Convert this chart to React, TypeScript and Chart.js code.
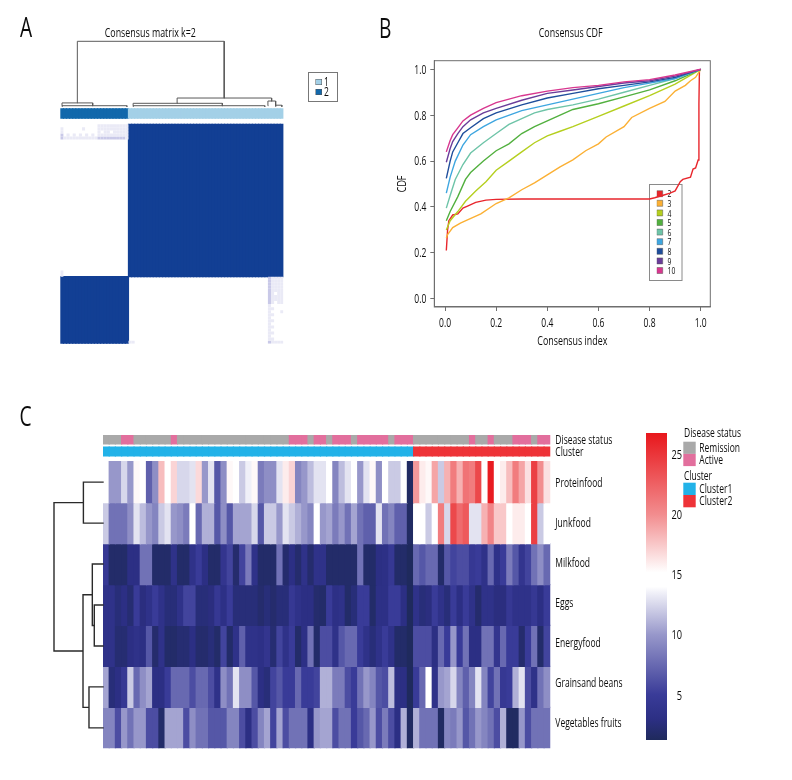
import React, { useEffect, useRef } from "react";
import { Chart, registerables } from "chart.js";

Chart.register(...registerables);

const FONT = '"Open Sans", "Noto Sans", sans-serif';
const TEXT_WIDTH = 0.71;
const TEXT_DROP = 0.9;
const W = 792;
const H = 780;
const INK = "#0c0c0c";

/* The reference sets its text in a condensed face: every label of every chart is narrowed here. */
Chart.register({
  id: "condensedText",
  beforeInit(chart: any) {
    const ctx = chart.ctx;
    const fill = ctx.fillText.bind(ctx);
    ctx.fillText = (t: string, x: number, y: number, m?: number) => {
      ctx.save();
      ctx.translate(x, y + TEXT_DROP);
      ctx.scale(TEXT_WIDTH, 1);
      if (m == null) fill(t, 0, 0);
      else fill(t, 0, 0, m / TEXT_WIDTH);
      ctx.restore();
    };
  },
} as any);

/* ---------- Panel A: consensus matrix ---------- */
const matrixClusters = [2,2,2,2,2,2,2,2,2,2,2,2,2,2,2,2,2,2,2,2,2,2,1,1,1,1,1,1,1,1,1,1,1,1,1,1,1,1,1,1,1,1,1,1,1,1,1,1,1,1,1,1,1,1,1,1,1,1,1,1,1,1,1,1,1,1,1,1,1,1,1,1];
const matrixLegendLabels = ["1", "2"];
const matrixClusterColors = ["#a3d0e7", "#1268ab"];
// faint consensus, rows 0..4 over the first 22 columns
const faintTopLeft = [
  [0,0,0,0,0,0,0,0,0,0,0,0,1,1,1,1,1,1,1,1,1,1],
  [1,0,0,0,0,0,0,1,0,0,0,0,1,1,1,1,1,1,1,1,1,1],
  [1,0,0,0,0,0,0,0,0,0,0,0,1,0,1,1,0,1,1,1,1,1],
  [2,0,1,0,1,0,1,0,1,0,1,0,1,1,1,1,1,1,1,1,1,1],
  [2,1,1,1,1,1,1,1,1,1,1,1,2,2,2,2,2,2,2,2,2,1],
];
// faint consensus, rows 50..71 over the last 5 columns
const faintBottomRight = [
  [2,1,1,1,1],[2,1,1,1,1],[2,1,1,1,1],[2,1,1,1,1],[2,1,1,1,1],[2,1,0,1,1],[2,1,1,1,1],[2,1,1,1,1],[2,1,0,1,1],
  [1,0,0,0,0],[1,1,0,0,0],[1,0,0,0,1],[1,1,0,0,0],[1,0,0,0,0],[1,1,0,0,0],[1,0,0,0,0],[1,1,0,0,0],[1,0,0,0,0],[1,1,0,0,0],[1,0,0,0,0],[1,1,0,0,0],[2,1,1,1,1],
];
const faintColors = ["#ffffff", "#eaeaf6", "#c9c9e8"];
// [left leaf, right leaf, merge height, left child height, right child height]
const matrixMerges = [
  [5.5, 52.9, 1, 0.055, 0.13],
  [0.55, 10.45, 0.055, 0.012, 0.012],
  [0.55, 21.5, 0.012, 0, 0],
  [37.7, 68.2, 0.13, 0.049, 0.084],
  [23.5, 52.3, 0.049, 0.012, 0.012],
  [23.5, 66, 0.012, 0, 0],
  [67, 69.5, 0.084, 0.012, 0.012],
  [69.5, 71.5, 0.02, 0, 0],
];

/* ---------- Panel B: consensus CDF ---------- */
const cdfLabels = ["2", "3", "4", "5", "6", "7", "8", "9", "10"];
const cdfColors = ["#e8262c", "#fbb034", "#b5cf1f", "#52b03f", "#6ec4a8", "#3ea6e0", "#1f4e9c", "#6a3d9a", "#d8378f"];
const cdf2x = [0.005,0.01,0.015,0.03,0.05,0.07,0.09,0.12,0.16,0.2,0.3,0.8,0.82,0.85,0.88,0.9,0.92,0.93,0.96,0.97,0.98,0.99,0.993,0.995];
const cdf2y = [0.21,0.30,0.34,0.365,0.37,0.395,0.405,0.42,0.43,0.433,0.435,0.435,0.44,0.45,0.46,0.47,0.51,0.52,0.53,0.565,0.57,0.605,0.85,1.0];
const cdf3x = [0.005,0.01,0.03,0.06,0.09,0.14,0.2,0.25,0.3,0.35,0.4,0.45,0.5,0.55,0.6,0.63,0.7,0.73,0.8,0.86,0.9,0.94,0.96,0.98,1];
const cdf3y = [0.265,0.28,0.31,0.33,0.345,0.37,0.415,0.44,0.475,0.505,0.54,0.575,0.605,0.645,0.675,0.705,0.75,0.79,0.83,0.86,0.905,0.93,0.95,0.965,1];
const cdf4x = [0.005,0.02,0.05,0.08,0.12,0.16,0.2,0.25,0.3,0.35,0.4,0.45,0.5,0.6,0.7,0.8,0.9,1];
const cdf4y = [0.30,0.34,0.38,0.425,0.47,0.51,0.56,0.60,0.64,0.68,0.71,0.73,0.75,0.795,0.84,0.885,0.935,1];
const cdf5x = [0.005,0.02,0.05,0.08,0.1,0.15,0.2,0.25,0.3,0.35,0.4,0.45,0.5,0.6,0.7,0.8,0.9,1];
const cdf5y = [0.34,0.38,0.445,0.52,0.55,0.60,0.645,0.675,0.72,0.75,0.775,0.80,0.825,0.85,0.88,0.91,0.95,1];
const cdf6x = [0.005,0.02,0.04,0.07,0.1,0.15,0.2,0.25,0.3,0.35,0.4,0.5,0.6,0.7,0.8,0.9,1];
const cdf6y = [0.395,0.45,0.52,0.585,0.635,0.68,0.72,0.76,0.785,0.81,0.825,0.845,0.87,0.90,0.93,0.96,1];
const cdf7x = [0.005,0.02,0.04,0.07,0.1,0.15,0.2,0.3,0.4,0.5,0.6,0.7,0.8,0.9,1];
const cdf7y = [0.46,0.53,0.60,0.67,0.715,0.75,0.78,0.82,0.845,0.87,0.895,0.92,0.94,0.96,1];
const cdf8x = [0.005,0.02,0.03,0.05,0.07,0.1,0.15,0.2,0.3,0.4,0.5,0.6,0.7,0.8,0.9,1];
const cdf8y = [0.525,0.60,0.64,0.68,0.72,0.745,0.785,0.81,0.845,0.875,0.895,0.915,0.93,0.945,0.965,1];
const cdf9x = [0.005,0.02,0.03,0.05,0.07,0.1,0.15,0.2,0.3,0.4,0.5,0.6,0.7,0.8,0.9,1];
const cdf9y = [0.595,0.655,0.685,0.72,0.75,0.78,0.81,0.83,0.865,0.895,0.91,0.925,0.94,0.95,0.97,1];
const cdf10x = [0.005,0.02,0.03,0.05,0.07,0.1,0.15,0.2,0.25,0.3,0.4,0.5,0.6,0.7,0.8,0.9,1];
const cdf10y = [0.64,0.69,0.715,0.745,0.775,0.80,0.83,0.855,0.87,0.885,0.905,0.92,0.93,0.945,0.955,0.975,1];
const cdfX = [cdf2x, cdf3x, cdf4x, cdf5x, cdf6x, cdf7x, cdf8x, cdf9x, cdf10x];
const cdfY = [cdf2y, cdf3y, cdf4y, cdf5y, cdf6y, cdf7y, cdf8y, cdf9y, cdf10y];
const cdfTicks = [0, 0.2, 0.4, 0.6, 0.8, 1];

/* ---------- Panel C: heatmap ---------- */
const rowLabels = ["Proteinfood", "Junkfood", "Milkfood", "Eggs", "Energyfood", "Grainsand beans", "Vegetables fruits"];
const rowLabelTicks = [0.513, 1.49, 2.466, 3.45, 4.42, 5.4, 6.38];
const proteinfood = [14,10,10,12.5,10,15.5,14.5,7,9.5,18,14.5,17,12.5,12.5,13,16.8,10,13,6.5,9.5,15.5,14.5,12,13.5,15.5,8.5,9.5,9.5,13,16,17,9,10,11.5,13,13,14.5,9,11.5,13,14.5,10,13,15.5,9.5,14.5,12,12,14.5,1.5,19.5,16,15.5,19,12,18.5,21,18.5,21.5,21,24,14.5,26.5,14.5,16,18,21,19,16.5,24.5,20,16.5];
const junkfood = [12,8,8,8,9.5,13,11.5,10,9,12,13,10,9.5,8.5,14.5,7.5,11,11,6.5,9.5,6.5,10.5,10.5,10.5,12.5,6.5,12,12,10,13,12,11,10,9,14.5,10,10.5,8.5,10,8,10.5,8,7,7,13,8,9,7,7,1.5,14.5,14.5,12,14.5,21,12.5,24,22,23,13,13,18.5,20.5,17.5,17.5,14.5,16,16,14.5,24.5,12,14.5];
const milkfood = [4.5,1.8,1.8,1.8,3,3,8,8,1.8,1.8,1.8,3.5,1.8,1.8,3.5,5,3,1.8,1.8,4,5.5,2,5.5,8.5,3.5,1.8,1.8,1.8,8,2,3,2,3.5,2,3.5,3.5,1.8,1.8,1.8,1.8,1.8,8,1.8,1.8,3,3.2,4.5,1.8,1.8,1.3,7.5,6.5,7.5,7.5,1.8,6.5,5.5,6,6,4.5,5,3.5,7.5,3.5,5,8.5,6.5,4,5.5,8,9.5,7.5];
const eggs = [3.5,3.5,2.5,3,2.2,5,2.8,3.5,5,3.5,2.5,2.5,3.5,5.5,5.5,2.5,2.5,2.8,4.5,3.2,5,2.5,2.5,2.5,2.5,2,2.5,2,2.5,2.5,4.5,3.5,3,3,2,1.8,5,3.2,3.5,1.8,2.5,5,5,1.8,3.2,3.2,5,5,3,1.3,3.5,2.5,2.8,5,3.5,2.5,5,3,5,3.5,2,3.5,3.5,2.8,2.8,4.5,3.5,3.5,3.5,4.5,3,5];
const energyfood = [3.5,3.5,2.2,2.2,3,3.5,3,6.5,2,3.5,1.8,1.8,2.2,2.2,3,2,2,2.5,1.8,5.5,1.8,3.5,7,3.5,3.5,3.2,4,2.2,5.5,3.5,5,1.8,3.2,8,1.8,6,6,3.5,6.5,7.5,7.5,5,3.5,2.5,3.5,5,3.5,1.8,1.8,1.3,6,6,6,3,7.5,5,10,5,8,3,3,8,8,4,7.5,5,5,2,5,8,1.8,5.5];
const grainsBeans = [10.5,2.5,3,4.5,12,7.5,9.5,10.5,3,3,5,7.5,7.5,7.5,6,7.5,7.5,6,3.5,9.5,8,13,9.5,9.5,6.5,3,2.5,5.5,6.5,5,5,7.5,5,5,5.5,11,11,8.5,8.5,6,5,8,10,9,6.5,6,11.5,3,3,1.3,5,7.5,15,3.5,10,10.5,12.5,9,7,9,13,9,5.5,8,4.5,5,11,13,6,3.5,8,9.5];
const vegetablesFruits = [9,9,6,10,8,10,10,6,6,1.8,10.5,10.5,10.5,6,9.5,8,8,6.5,6.5,6.5,9,9,6,3,6,9,10.5,5.5,10.5,6,8,8,8,3,10,10.5,10.5,6,8,8,5,6.5,7.5,10,6,8.5,6,3,11,1.5,11,8,8,8,1.5,9,8.5,10,6.5,8,10,9,8,6,11,1.5,1.5,10,6,8,8,8];
const heatRows = [proteinfood, junkfood, milkfood, eggs, energyfood, grainsBeans, vegetablesFruits];
const diseaseStatus = [0,0,0,1,1,0,0,0,0,0,0,1,0,0,0,0,0,0,0,0,0,0,0,0,0,0,0,0,0,0,1,1,1,0,1,1,0,1,1,1,0,1,1,1,1,1,0,1,1,1,0,0,0,0,0,0,0,0,0,1,0,0,1,0,0,0,1,1,1,0,1,1];
const clusterRow = [0,0,0,0,0,0,0,0,0,0,0,0,0,0,0,0,0,0,0,0,0,0,0,0,0,0,0,0,0,0,0,0,0,0,0,0,0,0,0,0,0,0,0,0,0,0,0,0,0,0,1,1,1,1,1,1,1,1,1,1,1,1,1,1,1,1,1,1,1,1,1,1];
const diseaseLabels = ["Remission", "Active"];
const diseaseColors = ["#a9a9a9", "#e26f9d"];
const clusterLabels = ["Cluster1", "Cluster2"];
const clusterColors = ["#22b2e8", "#ee3338"];
// [upper row, lower row, merge height, upper child height, lower child height]
const rowMerges = [
  [0.5, 1.5, 0.4, 0, 0],
  [3.5, 4.5, 0.178, 0, 0],
  [2.5, 4, 0.218, 0, 0.178],
  [5.5, 6.5, 0.286, 0, 0],
  [3.25, 6, 0.408, 0.218, 0.286],
  [1, 4.625, 1, 0.4, 0.408],
];
const colorStops: [number, string][] = [
  [1.25, "#1f2a5c"], [3, "#2c2f84"], [5, "#393b98"], [10, "#9797ca"], [13.5, "#f0f0f8"],
  [14, "#ffffff"], [15.2, "#ffffff"], [20, "#f28d8f"], [26.8, "#e8171c"],
];
const colorbarRange = [1.25, 26.8];
const colorbarTicks = [5, 10, 15, 20, 25];

/* ---------- helpers ---------- */
const hexRgb = (h: string) => [1, 3, 5].map((i) => parseInt(h.slice(i, i + 2), 16));
function heatColor(v: number) {
  for (let i = 1; i < colorStops.length; i++) {
    if (v <= colorStops[i][0]) {
      const [v0, c0] = colorStops[i - 1];
      const [v1, c1] = colorStops[i];
      const t = Math.max(0, (v - v0) / (v1 - v0));
      const a = hexRgb(c0), b = hexRgb(c1);
      return `rgb(${a.map((x, k) => Math.round(x + (b[k] - x) * t)).join(",")})`;
    }
  }
  return colorStops[colorStops.length - 1][1];
}
const area = (l: number, t: number, r: number, b: number) => ({ padding: { left: l, top: t, right: W - r, bottom: H - b } });
const font = (size: number) => ({ family: FONT, size, lineHeight: 1.2 });
const hidden = { display: false };
const base = { responsive: false, animation: false, events: [] as string[] };
const noPlugins = { legend: { display: false }, title: { display: false }, tooltip: { enabled: false } };

type Note = { text: string; x: number; y: number; size: number; align?: CanvasTextAlign };
function notesPlugin(notes: Note[], extra?: (ctx: CanvasRenderingContext2D) => void) {
  return {
    id: "notes",
    afterDraw(chart: any) {
      const ctx: CanvasRenderingContext2D = chart.ctx;
      ctx.save();
      ctx.fillStyle = INK;
      ctx.textBaseline = "middle";
      for (const n of notes) {
        ctx.font = `${n.size}px ${FONT}`;
        ctx.textAlign = n.align || "left";
        ctx.fillText(n.text, n.x, n.y);
      }
      if (extra) extra(ctx);
      ctx.restore();
    },
  };
}
function swatchRow(ctx: CanvasRenderingContext2D, color: string, x: number, y: number, w: number, h: number, label: string, lx: number, size: number) {
  ctx.fillStyle = color;
  ctx.fillRect(x, y, w, h);
  ctx.fillStyle = INK;
  ctx.font = `${size}px ${FONT}`;
  ctx.textAlign = "left";
  ctx.fillText(label, lx, y + h / 2);
}
function treePath(merges: number[][], horizontal: boolean) {
  const pts: { x: number; y: number }[] = [];
  for (const [a, b, top, ha, hb] of merges) {
    const seq = [[a, ha], [a, top], [b, top], [b, hb], [NaN, NaN]];
    for (const [p, h] of seq) pts.push(horizontal ? { x: h, y: p } : { x: p, y: h });
  }
  return pts;
}
const barDefaults = { barPercentage: 1, categoryPercentage: 1, grouped: false, borderWidth: 0, inflateAmount: 0.6 };

/* ---------- chart configs ---------- */
function matrixConfig() {
  const n = matrixClusters.length;
  const firstSize = matrixClusters.filter((c) => c === 2).length;
  const secondSize = n - firstSize;
  const cols = matrixClusters.map((_, i) => String(i));
  const datasets: any[] = [];
  faintTopLeft.forEach((row, r) => {
    datasets.push({
      data: cols.map((_, c) => (row[c] ? [r, r + 1] : null)),
      backgroundColor: cols.map((_, c) => faintColors[row[c] || 0]),
      inflateAmount: 0,
    });
  });
  faintBottomRight.forEach((row, r) => {
    const first = n - row.length;
    datasets.push({
      data: cols.map((_, c) => (c >= first && row[c - first] ? [secondSize + r, secondSize + r + 1] : null)),
      backgroundColor: cols.map((_, c) => faintColors[c >= first ? row[c - first] : 0]),
      inflateAmount: 0,
    });
  });
  datasets.push({
    data: cols.map((_, c) => (c === 22 || c === 23 ? [n - 1, n] : null)),
    backgroundColor: faintColors[1],
    inflateAmount: 0,
  });
  datasets.push({
    data: cols.map((_, c) => (c === 0 ? [secondSize - 2, secondSize] : null)),
    backgroundColor: faintColors[1],
    inflateAmount: 0,
  });
  datasets.push({
    data: matrixClusters.map(() => [-5.25, -2]),
    backgroundColor: matrixClusters.map((c) => matrixClusterColors[c - 1]),
  });
  datasets.push({
    data: matrixClusters.map((c) => (c === 1 ? [0, secondSize] : [secondSize, n])),
    backgroundColor: "#123f94",
  });
  return {
    type: "bar",
    data: { labels: cols, datasets },
    options: {
      ...base,
      layout: area(60.3, 108.3, 283.4, 343.7),
      datasets: { bar: barDefaults },
      plugins: noPlugins,
      scales: {
        x: hidden,
        y: { ...hidden, type: "linear", reverse: true, min: -5.25, max: n },
      },
    },
    plugins: [
      notesPlugin(
        [
          { text: "A", x: 20, y: 28.5, size: 27 },
          { text: "Consensus matrix k=2", x: 150.3, y: 32.5, size: 12.5, align: "center" },
        ],
        (ctx) => {
          ctx.strokeStyle = "#777";
          ctx.lineWidth = 1;
          ctx.strokeRect(308.5, 72.5, 29, 29);
          matrixLegendLabels.forEach((l, i) => {
            ctx.fillStyle = "#555";
            ctx.fillRect(315.5, 79 + i * 10, 6.5, 6);
            swatchRow(ctx, matrixClusterColors[i], 316, 79.5 + i * 10, 5.5, 5, l, 324, 12);
          });
        }
      ),
    ],
  };
}
function matrixTreeConfig() {
  return {
    type: "scatter",
    data: {
      datasets: [
        { data: treePath(matrixMerges, false), showLine: true, borderColor: "#5a5a5a", borderWidth: 1, pointRadius: 0, clip: false, borderCapStyle: "square" },
      ],
    },
    options: {
      ...base,
      layout: area(60.3, 41.3, 283.4, 106.5),
      plugins: noPlugins,
      scales: { x: { ...hidden, type: "linear", min: 0, max: 72 }, y: { ...hidden, type: "linear", min: 0, max: 1 } },
    },
  };
}
function cdfConfig() {
  const axisColor = "#6e6e6e";
  const fixedTicks = (scale: any) => {
    scale.ticks = cdfTicks.map((value) => ({ value }));
  };
  const axis = (title: string) => ({
    type: "linear",
    afterBuildTicks: fixedTicks,
    title: { display: true, text: title, font: font(12.5), color: INK, padding: 0 },
    grid: { drawOnChartArea: false, color: axisColor, tickLength: 4, tickColor: axisColor },
    border: { color: axisColor },
    ticks: { font: font(12), color: INK, padding: 4, maxRotation: 0, autoSkip: false, callback: (v: number) => v.toFixed(1) },
  });
  return {
    type: "scatter",
    data: {
      datasets: cdfLabels.map((label, i) => ({
        label,
        data: cdfX[i].map((x, k) => ({ x, y: cdfY[i][k] })),
        showLine: true,
        borderColor: cdfColors[i],
        backgroundColor: cdfColors[i],
        borderWidth: 1.4,
        pointRadius: 0,
        order: cdfLabels.length - i,
      })).reverse(),
    },
    options: {
      ...base,
      layout: area(394, 60.7, 710.3, 348),
      plugins: {
        tooltip: { enabled: false },
        title: { display: false },
        legend: {
          position: "chartArea",
          align: "start",
          reverse: true,
          labels: {
            font: { family: FONT, size: 9.6 },
            color: INK,
            boxWidth: 6,
            boxHeight: 6,
            padding: 0,
            generateLabels: (chart: any) =>
              (Chart as any).defaults.plugins.legend.labels.generateLabels(chart).map((l: any) => ({ ...l, strokeStyle: "#555", lineWidth: 0.5 })),
          },
        },
      },
      scales: {
        x: { ...axis("Consensus index"), min: -0.042, max: 1.0375, afterFit: (s: any) => { s.height = 41; } },
        y: { ...axis("CDF"), min: -0.036, max: 1.0375, afterFit: (s: any) => { s.width = 40.3; } },
      },
    },
    plugins: [
      {
        id: "frame",
        afterLayout(chart: any) {
          const lg = chart.legend;
          lg.left = 656.7;
          lg.top = 188.9;
          lg.right = lg.left + 30;
          lg.bottom = lg.top + 90;
        },
        beforeDatasetsDraw(chart: any) {
          const { left, top, right, bottom } = chart.chartArea;
          const ctx = chart.ctx;
          ctx.save();
          ctx.strokeStyle = axisColor;
          ctx.lineWidth = 1;
          ctx.strokeRect(left, top, right - left, bottom - top);
          ctx.strokeStyle = "#8a8a8a";
          ctx.strokeRect(649.5, 184.5, 32.5, 96);
          ctx.restore();
        },
      },
      notesPlugin([
        { text: "B", x: 379, y: 29.5, size: 27 },
        { text: "Consensus CDF", x: 570.7, y: 32.5, size: 12.5, align: "center" },
      ]),
    ],
  };
}
function heatConfig() {
  const cols = clusterRow.map((_, i) => String(i));
  const statusTick = -0.542;
  const clusterTick = -0.249;
  const datasets: any[] = heatRows.map((values, r) => ({
    label: rowLabels[r],
    data: values.map(() => [r, r + 1]),
    backgroundColor: values.map(heatColor),
  }));
  datasets.push({
    label: "Disease status",
    data: diseaseStatus.map(() => [-0.652, -0.432]),
    backgroundColor: diseaseStatus.map((s) => diseaseColors[s]),
  });
  datasets.push({
    label: "Cluster",
    data: clusterRow.map(() => [-0.359, -0.139]),
    backgroundColor: clusterRow.map((s) => clusterColors[s]),
  });
  const labelFor = (v: number) => {
    if (v === statusTick) return "Disease status";
    if (v === clusterTick) return "Cluster";
    return rowLabels[rowLabelTicks.indexOf(v)];
  };
  return {
    type: "bar",
    data: { labels: cols, datasets },
    options: {
      ...base,
      layout: area(103, 435, W, 748.3),
      datasets: { bar: barDefaults },
      plugins: noPlugins,
      scales: {
        x: hidden,
        y: {
          type: "linear",
          position: "right",
          reverse: true,
          min: -0.652,
          max: rowLabels.length,
          afterFit: (s: any) => { s.width = W - 550.3; },
          afterBuildTicks: (s: any) => {
            s.ticks = [statusTick, clusterTick, ...rowLabelTicks].map((value) => ({ value }));
          },
          grid: { display: false, drawTicks: false },
          border: { display: false },
          ticks: { font: font(12), color: INK, padding: 5, autoSkip: false, callback: labelFor },
        },
      },
    },
    plugins: [
      notesPlugin(
        [
          { text: "C", x: 19.5, y: 417.5, size: 27 },
          { text: "Disease status", x: 684, y: 432.5, size: 12 },
          { text: "Cluster", x: 684, y: 476, size: 12 },
        ],
        (ctx) => {
          ctx.textBaseline = "middle";
          diseaseLabels.forEach((l, i) => swatchRow(ctx, diseaseColors[i], 683.3, 441.7 + i * 12.2, 12.4, 12.2, l, 699.3, 12));
          clusterLabels.forEach((l, i) => swatchRow(ctx, clusterColors[i], 683.3, 482.7 + i * 12.3, 12.4, 12.3, l, 699.3, 12));
        }
      ),
    ],
  };
}
function rowTreeConfig() {
  return {
    type: "scatter",
    data: {
      datasets: [
        { data: treePath(rowMerges, true), showLine: true, borderColor: "#2a2a2a", borderWidth: 1.4, pointRadius: 0, clip: false, borderCapStyle: "square" },
      ],
    },
    options: {
      ...base,
      layout: area(54, 461.7, 103, 748.3),
      plugins: noPlugins,
      scales: {
        x: { ...hidden, type: "linear", reverse: true, min: 0, max: 1 },
        y: { ...hidden, type: "linear", reverse: true, min: 0, max: rowLabels.length },
      },
    },
  };
}
function colorbarConfig() {
  const [lo, hi] = colorbarRange;
  return {
    type: "bar",
    data: {
      labels: [""],
      datasets: [
        {
          data: [[lo, hi]],
          inflateAmount: 0,
          backgroundColor: (c: any) => {
            const a = c.chart.chartArea;
            if (!a) return colorStops[0][1];
            const g = c.chart.ctx.createLinearGradient(0, a.bottom, 0, a.top);
            colorStops.forEach(([v, col]) => g.addColorStop((v - lo) / (hi - lo), col));
            return g;
          },
        },
      ],
    },
    options: {
      ...base,
      layout: area(646, 433, 682, 740),
      datasets: { bar: barDefaults },
      plugins: noPlugins,
      scales: {
        x: hidden,
        y: {
          type: "linear",
          position: "right",
          min: lo,
          max: hi,
          afterFit: (s: any) => { s.width = 682 - 667; },
          afterBuildTicks: (s: any) => {
            s.ticks = colorbarTicks.map((value) => ({ value }));
          },
          grid: { display: false, drawTicks: false },
          border: { display: false },
          ticks: { font: font(13), color: INK, padding: 3, crossAlign: "far", autoSkip: false },
        },
      },
    },
  };
}

const builders = [matrixConfig, matrixTreeConfig, cdfConfig, heatConfig, rowTreeConfig, colorbarConfig];

export default function App() {
  const refs = useRef<(HTMLCanvasElement | null)[]>([]);
  useEffect(() => {
    const charts = builders.map((b, i) => new Chart(refs.current[i] as HTMLCanvasElement, b() as any));
    return () => charts.forEach((c) => c.destroy());
  }, []);
  return (
    <div style={{ position: "absolute", left: 0, top: 0, width: W, height: H, background: "#fff", overflow: "hidden" }}>
      {builders.map((_, i) => (
        <canvas
          key={i}
          ref={(el) => { refs.current[i] = el; }}
          width={W}
          height={H}
          style={{ position: "absolute", left: 0, top: 0, width: W, height: H, display: "block" }}
        />
      ))}
    </div>
  );
}
